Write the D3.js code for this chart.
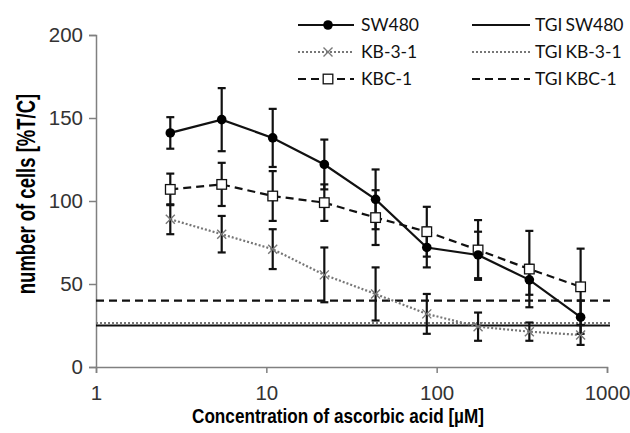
<!DOCTYPE html>
<html>
<head>
<meta charset="utf-8">
<script src="https://cdn.jsdelivr.net/npm/d3@7"></script>
<style>
  body { margin: 0; background: #fff; }
  svg { display: block; }
</style>
</head>
<body>
<div id="chart"></div>
<script>
// concentrations of ascorbic acid (uM), doubling series
var conc = [2.73, 5.47, 10.9, 21.9, 43.8, 87.5, 175, 350, 700];

// number of cells [% T/C] with error bars
var sw480 = [141, 149, 138, 122, 101, 72, 67.5, 52.5, 30];
var sw480Err = [9.5, 19, 17.5, 15, 18, 12, 14, 9, 10];
var kb31 = [89, 80, 71, 55.5, 44, 32, 24.3, 21.3, 19.3];
var kb31Err = [9, 11, 12, 16.5, 16, 12, 8.5, 5.5, 6];
var kbc1 = [107, 110, 103, 99, 90, 81.5, 70.5, 59, 48.3];
var kbc1Err = [9.5, 13, 15, 11, 16.5, 15, 18, 23, 23];

// TGI reference levels
var tgiNames = ["TGI SW480", "TGI KB-3-1", "TGI KBC-1"];
var tgiValues = [25, 26.5, 40];

var xTicks = [1, 10, 100, 1000];
var yTicks = [0, 50, 100, 150, 200];

var width = 630, height = 433;

var svg = d3.select("#chart").append("svg")
  .attr("width", width)
  .attr("height", height);

var x = d3.scaleLog().domain([1, 1000]).range([96, 607]);
var y = d3.scaleLinear().domain([0, 200]).range([367, 35]);

// line styles per series
var series = [
  { name: "KB-3-1", vals: kb31, err: kb31Err, color: "#777", dash: "2,2", marker: "x" },
  { name: "KBC-1", vals: kbc1, err: kbc1Err, color: "#111", dash: "8,5", marker: "square" },
  { name: "SW480", vals: sw480, err: sw480Err, color: "#111", dash: null, marker: "circle" }
];
var tgiStyle = [
  { color: "#111", dash: null },
  { color: "#777", dash: "2,2" },
  { color: "#111", dash: "8,5" }
];

// axes
var axisColor = "#808080";
var yAxis = svg.append("g")
  .attr("transform", "translate(96,0)")
  .call(d3.axisLeft(y).tickValues(yTicks).tickSize(7).tickPadding(6));
var xAxis = svg.append("g")
  .attr("transform", "translate(0,367)")
  .call(d3.axisBottom(x).tickValues(xTicks).tickFormat(d3.format("d")).tickSize(6).tickPadding(12));

[xAxis, yAxis].forEach(function(a) {
  a.select(".domain").attr("stroke", axisColor).attr("stroke-width", 1.5);
  a.selectAll(".tick line").attr("stroke", axisColor).attr("stroke-width", 1.5);
  a.selectAll(".tick text")
    .attr("fill", "#333")
    .style("font-family", "Liberation Sans, Arial, sans-serif")
    .style("font-size", "20.5px");
});

// TGI lines
tgiValues.forEach(function(v, i) {
  svg.append("line")
    .attr("x1", 96).attr("x2", 610)
    .attr("y1", y(v)).attr("y2", y(v))
    .attr("stroke", tgiStyle[i].color)
    .attr("stroke-width", 2.2)
    .attr("stroke-dasharray", tgiStyle[i].dash);
});

var line = d3.line()
  .x(function(d, i) { return x(conc[i]); })
  .y(function(d) { return y(d); });

series.forEach(function(s) {
  svg.append("path")
    .datum(s.vals)
    .attr("d", line)
    .attr("fill", "none")
    .attr("stroke", s.color)
    .attr("stroke-width", 2.2)
    .attr("stroke-dasharray", s.dash);
});

// error bars
series.forEach(function(s) {
  var g = svg.append("g").attr("stroke", "#111").attr("stroke-width", 2.2);
  s.vals.forEach(function(v, i) {
    var cx = x(conc[i]);
    var top = y(v + s.err[i]), bot = y(v - s.err[i]);
    g.append("line").attr("x1", cx).attr("x2", cx).attr("y1", top).attr("y2", bot);
    g.append("line").attr("x1", cx - 4).attr("x2", cx + 4).attr("y1", top).attr("y2", top);
    g.append("line").attr("x1", cx - 4).attr("x2", cx + 4).attr("y1", bot).attr("y2", bot);
  });
});

function drawMarker(g, type, cx, cy) {
  if (type === "circle") {
    g.append("circle").attr("cx", cx).attr("cy", cy).attr("r", 4.8).attr("fill", "#000");
  } else if (type === "square") {
    g.append("rect").attr("x", cx - 4.8).attr("y", cy - 4.8).attr("width", 9.6).attr("height", 9.6)
      .attr("fill", "#fff").attr("stroke", "#111").attr("stroke-width", 1.3);
  } else {
    g.append("path")
      .attr("d", "M" + (cx - 4.5) + "," + (cy - 4.5) + "L" + (cx + 4.5) + "," + (cy + 4.5) +
                 "M" + (cx - 4.5) + "," + (cy + 4.5) + "L" + (cx + 4.5) + "," + (cy - 4.5))
      .attr("stroke", "#777").attr("stroke-width", 1.4).attr("fill", "none");
  }
}

series.forEach(function(s) {
  var g = svg.append("g");
  s.vals.forEach(function(v, i) { drawMarker(g, s.marker, x(conc[i]), y(v)); });
});

// axis titles (condensed like the original)
svg.append("text")
  .attr("transform", "translate(338,423) scale(0.88,1)")
  .attr("text-anchor", "middle")
  .style("font-family", "Liberation Sans, Arial, sans-serif")
  .style("font-weight", "bold")
  .style("font-size", "19.5px")
  .text("Concentration of ascorbic acid [µM]");

svg.append("text")
  .attr("transform", "translate(35,194) rotate(-90) scale(0.74,1)")
  .attr("text-anchor", "middle")
  .style("font-family", "Liberation Sans, Arial, sans-serif")
  .style("font-weight", "bold")
  .style("font-size", "25px")
  .text("number of cells [%T/C]");

// legend
var legendRows = [25, 52, 79];
var legend = svg.append("g");
var legendOrder = [series[2], series[0], series[1]];
legendOrder.forEach(function(s, i) {
  var ly = legendRows[i];
  legend.append("line")
    .attr("x1", 298).attr("x2", 354).attr("y1", ly).attr("y2", ly)
    .attr("stroke", s.color).attr("stroke-width", 2)
    .attr("stroke-dasharray", s.dash);
  drawMarker(legend, s.marker, 328, ly);
  legend.append("text")
    .attr("x", 361).attr("y", ly + 6)
    .style("font-family", "Lato, Open Sans, sans-serif")
    .style("font-size", "17.5px")
    .attr("fill", "#111")
    .text(s.name);
});
tgiNames.forEach(function(n, i) {
  var ly = legendRows[i];
  legend.append("line")
    .attr("x1", 472).attr("x2", 530).attr("y1", ly).attr("y2", ly)
    .attr("stroke", tgiStyle[i].color).attr("stroke-width", 2)
    .attr("stroke-dasharray", tgiStyle[i].dash);
  legend.append("text")
    .attr("x", 535).attr("y", ly + 6)
    .style("font-family", "Lato, Open Sans, sans-serif")
    .style("font-size", "17.5px")
    .style("word-spacing", "-1.5px")
    .attr("fill", "#111")
    .text(n);
});
</script>
</body>
</html>
